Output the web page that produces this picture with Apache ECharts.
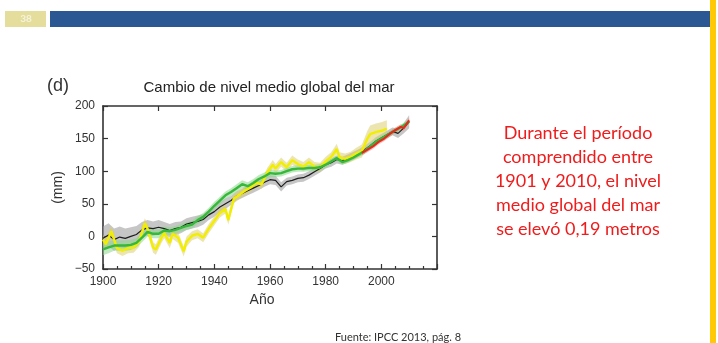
<!DOCTYPE html>
<html>
<head>
<meta charset="utf-8">
<script src="https://cdn.jsdelivr.net/npm/echarts@6/dist/echarts.min.js"></script>
<style>
  html, body { margin: 0; padding: 0; background: #ffffff; }
  #chart { width: 718px; height: 343px; }
</style>
</head>
<body>
<div id="chart"></div>
<script>
// Global mean sea level change (mm), 1900-2010

// Reconstruction shown in black with grey uncertainty band
const blackYears = [1900,1902,1904,1906,1908,1910,1912,1914,1916,1918,1920,1922,1924,1926,1928,1930,1932,1934,1936,1938,1940,1942,1944,1946,1948,1950,1952,1954,1956,1958,1960,1962,1964,1966,1968,1970,1972,1974,1976,1978,1980,1982,1984,1986,1988,1990,1992,1994,1996,1998,2000,2002,2004,2006,2008,2010];
const blackValues = [-3,2,-5,-1,-3,0,3,10,13,12,14,12,9,12,14,19,21,23,26,33,38,45,50,55,62,66,70,74,78,83,87,86,76,84,86,89,90,94,99,104,110,113,118,116,120,124,128,133,139,146,151,156,161,158,166,176];
const blackSpread = [18,18,17,16,15,14,13,12,12,11,11,10,10,10,9,9,9,9,8,8,8,8,8,7,7,7,7,7,7,7,7,7,7,6,6,6,6,6,6,6,6,6,6,6,6,6,6,6,6,6,6,6,6,7,8,10];

// Reconstruction shown in green
const greenYears = blackYears;
const greenValues = [-20,-17,-14,-14,-14,-13,-10,-2,7,4,4,9,8,10,13,16,18,25,30,38,47,55,63,68,74,80,77,82,88,92,97,96,97,100,103,104,104,105,105,106,110,115,120,114,117,121,126,131,138,145,150,155,160,165,170,176];
const greenSpread = [9,9,8,8,8,8,7,7,7,7,7,6,6,6,6,6,6,6,6,6,6,6,6,6,6,6,6,6,6,6,6,5,5,5,5,5,5,5,5,5,5,4,4,4,4,4,4,4,4,4,4,4,4,4,4,4];

// Reconstruction shown in yellow
const yellowYears = [1900,1901,1903,1905,1907,1909,1911,1913,1915,1916,1918,1919,1921,1922,1924,1925,1927,1929,1930,1932,1934,1936,1938,1940,1942,1944,1945,1947,1949,1951,1953,1955,1957,1959,1961,1962,1964,1966,1968,1970,1972,1974,1976,1978,1980,1982,1984,1985,1987,1989,1991,1993,1995,1996,1998,2000,2002];
const yellowValues = [-5,-12,8,-18,-22,-18,-17,-8,20,12,-17,-20,-2,5,-10,4,-2,-23,-8,1,4,-2,12,24,36,42,25,58,64,70,75,82,80,98,110,104,114,106,117,111,107,114,107,106,115,122,134,121,119,122,127,131,150,157,160,162,165];
const yellowSpread = [8,8,8,8,8,8,8,8,8,8,8,8,8,8,8,8,8,8,8,7,7,7,7,7,7,7,7,7,7,7,7,7,7,7,7,7,7,7,7,7,7,7,7,7,7,7,8,8,8,8,9,10,12,13,13,13,13];

// Satellite altimetry (red)
const redYears = [1993,1995,1997,1999,2001,2003,2005,2007,2008,2010];
const redValues = [128,133,138,145,150,157,163,168,166,178];
const redSpread = [4,4,4,4,4,4,4,4,4,4];

// Axis ticks
const yearTicks = [1900, 1920, 1940, 1960, 1980, 2000];
const levelTicks = [-50, 0, 50, 100, 150, 200];

const pairs = (xs, ys) => xs.map((x, i) => [x, ys[i]]);

// Uncertainty band: one polygon running along the upper edge and back along the lower edge
function band(name, xs, ys, spread, fill) {
  return {
    name: name,
    type: 'custom',
    silent: true,
    data: [[xs[0], ys[0]]],
    renderItem: function (params, api) {
      const pts = [];
      for (let i = 0; i < xs.length; i++) pts.push(api.coord([xs[i], ys[i] + spread[i]]));
      for (let i = xs.length - 1; i >= 0; i--) pts.push(api.coord([xs[i], ys[i] - spread[i]]));
      return { type: 'polygon', shape: { points: pts }, style: { fill: fill } };
    }
  };
}

function line(name, xs, ys, color, width) {
  return {
    name: name,
    type: 'line',
    data: pairs(xs, ys),
    showSymbol: false,
    silent: true,
    lineStyle: { color: color, width: width },
    z: 3
  };
}

const axisFont = 'Liberation Sans, Arial, sans-serif';
const slideFont = 'Lato, "Noto Sans", sans-serif';
const frame = { show: true, onZero: false, lineStyle: { color: '#333', width: 1.6 } };
const innerTick = { show: true, inside: true, length: 5, lineStyle: { color: '#333', width: 1.2 } };

const chart = echarts.init(document.getElementById('chart'), null, { renderer: 'canvas' });

chart.setOption({
  animation: false,
  backgroundColor: '#ffffff',
  grid: { left: 103, right: 281, top: 106, bottom: 74 },
  xAxis: [
    {
      type: 'value', min: 1900, max: 2020, interval: 20,
      name: 'Año', nameLocation: 'middle', nameGap: 24,
      nameTextStyle: { fontFamily: axisFont, fontSize: 14, color: '#333', padding: [0, 16, 0, 0] },
      axisLine: frame,
      axisTick: innerTick,
      minorTick: { show: true, splitNumber: 4, length: 3, lineStyle: { color: '#333', width: 1.2 } },
      axisLabel: {
        fontFamily: axisFont, fontSize: 12, color: '#333', margin: 7,
        formatter: v => (yearTicks.indexOf(v) >= 0 ? String(v) : '')
      },
      splitLine: { show: false }
    },
    {
      type: 'value', min: 1900, max: 2020, interval: 20, position: 'top',
      axisLine: frame,
      axisTick: innerTick,
      axisLabel: { show: false },
      splitLine: { show: false }
    }
  ],
  yAxis: [
    {
      type: 'value', min: -50, max: 200, interval: 50,
      name: '(mm)', nameLocation: 'middle', nameGap: 38,
      nameTextStyle: { fontFamily: axisFont, fontSize: 14, color: '#333' },
      axisLine: frame,
      axisTick: innerTick,
      axisLabel: {
        fontFamily: axisFont, fontSize: 12, color: '#333', margin: 8,
        formatter: v => (levelTicks.indexOf(v) >= 0 ? String(v).replace('-', '\u2212') : '')
      },
      splitLine: { show: false }
    },
    {
      type: 'value', min: -50, max: 200, interval: 50, position: 'right',
      axisLine: frame,
      axisTick: innerTick,
      axisLabel: { show: false },
      splitLine: { show: false }
    }
  ],
  series: [
    band('grey band', blackYears, blackValues, blackSpread, 'rgba(160,160,160,0.6)'),
    band('yellow band', yellowYears, yellowValues, yellowSpread, 'rgba(222,208,110,0.55)'),
    band('green band', greenYears, greenValues, greenSpread, 'rgba(140,215,140,0.55)'),
    band('red band', redYears, redValues, redSpread, 'rgba(240,120,110,0.45)'),
    line('black', blackYears, blackValues, '#1e1e1e', 1.2),
    line('yellow', yellowYears, yellowValues, '#f2ee00', 2.4),
    line('green', greenYears, greenValues, '#36b83a', 2.4),
    line('red', redYears, redValues, '#e8281c', 2)
  ],
  graphic: [
    // slide header
    { type: 'rect', left: 5, top: 11, shape: { width: 41, height: 16 }, style: { fill: '#e4dd9c' } },
    { type: 'text', x: 26, y: 19, style: { text: '38', font: 'bold 10px ' + slideFont, fill: '#f6f3dc', align: 'center', verticalAlign: 'middle' } },
    { type: 'rect', left: 50, top: 11, shape: { width: 661, height: 16 }, style: { fill: '#2b5893' } },
    { type: 'rect', left: 710, top: 0, shape: { width: 6, height: 343 }, style: { fill: '#ffca05' } },
    // panel label and title
    { type: 'text', left: 47, top: 77, style: { text: '(d)', font: '18px ' + axisFont, fill: '#333' } },
    { type: 'text', x: 269, y: 88, style: { text: 'Cambio de nivel medio global del mar', font: '15px ' + axisFont, fill: '#222', align: 'center', verticalAlign: 'middle' } },
    // note
    {
      type: 'text', x: 578, y: 181,
      style: {
        text: 'Durante el período\ncomprendido entre\n1901 y 2010, el nivel\nmedio global del mar\nse elevó 0,19 metros',
        font: '18px ' + slideFont, fill: '#ee1c1c', align: 'center', verticalAlign: 'middle', lineHeight: 24
      }
    },
    { type: 'text', x: 398, y: 337, style: { text: 'Fuente: IPCC 2013, pág. 8', font: '11px ' + slideFont, fill: '#333', align: 'center', verticalAlign: 'middle' } }
  ]
});
</script>
</body>
</html>
